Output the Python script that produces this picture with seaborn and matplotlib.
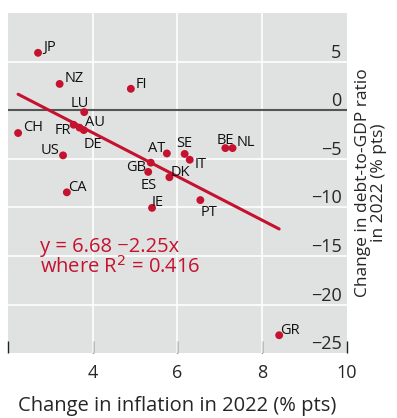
import matplotlib
matplotlib.use("Agg")
import matplotlib.pyplot as plt
import numpy as np
import pandas as pd
import seaborn as sns

# values
countries = ["JP", "NZ", "FI", "LU", "CH", "FR", "AU", "DE", "US", "CA", "AT", "SE",
             "IT", "GB", "ES", "DK", "IE", "BE", "NL", "PT", "GR"]
inflation_change = [2.71, 3.22, 4.90, 3.80, 2.24, 3.55, 3.69, 3.79, 3.30, 3.39, 5.75, 6.17,
                    6.29, 5.37, 5.31, 5.81, 5.40, 7.13, 7.30, 6.54, 8.40]
debt_change = [5.9, 2.7, 2.2, -0.2, -2.35, -1.5, -1.8, -2.05, -4.65, -8.45, -4.45, -4.5,
               -5.1, -5.4, -6.35, -6.9, -10.05, -3.9, -3.9, -9.25, -23.15]
fit_intercept = 6.68
fit_slope = -2.25
fit_r2 = 0.416
x_ticks = [2, 4, 6, 8, 10]
x_tick_labels = ["", "4", "6", "8", "10"]
y_ticks = [5, 0, -5, -10, -15, -20, -25]

# label offsets in pixels (x, y, horizontal alignment)
label_pos = {
    "JP": (5, 5, "left"), "NZ": (5, 5, "left"), "FI": (5, 4, "left"),
    "LU": (-4, 9, "center"), "CH": (5, 6, "left"), "FR": (-3, -6, "right"),
    "AU": (5, 5, "left"), "DE": (0, -14, "left"), "US": (-4, 5, "right"),
    "CA": (1, 5, "left"), "AT": (-2, 5, "right"), "SE": (0, 10, "center"),
    "IT": (5, -5, "left"), "GB": (-5, -5, "right"), "ES": (0, -14, "center"),
    "DK": (1, 5, "left"), "IE": (0, 5, "left"), "BE": (0, 8, "center"),
    "NL": (4, 6, "left"), "PT": (0, -12, "left"), "GR": (1, 5, "left"),
}

df = pd.DataFrame({"country": countries, "x": inflation_change, "y": debt_change})

red = "#c4122f"
sns.set_style("white")
plt.rcParams["font.family"] = ["Open Sans", "DejaVu Sans"]

fig = plt.figure(figsize=(3.97, 4.18), dpi=100)
ax = fig.add_axes([0.02, 0.155, 0.854, 0.814])
ax.set_facecolor("#e0e1e1")

# grid
for xv in [4, 6, 8]:
    ax.axvline(xv, color="white", lw=1.2, zorder=1)
for yv in [5, -5, -10, -15, -20]:
    ax.axhline(yv, color="white", lw=1.2, zorder=1)
ax.axhline(0, color="#555555", lw=1.5, zorder=1)

# regression line over the data range
xfit = np.array([df["x"].min(), df["x"].max()])
yfit = fit_intercept + fit_slope * xfit
sns.lineplot(x=xfit, y=yfit, color=red, lw=2.2, ax=ax, zorder=2)

sns.scatterplot(data=df, x="x", y="y", color=red, s=32, edgecolor="none", ax=ax, zorder=3)

for c, xv, yv in zip(countries, inflation_change, debt_change):
    dx, dy, ha = label_pos[c]
    ax.annotate(c, (xv, yv), xytext=(dx, dy), textcoords="offset pixels",
                ha=ha, va="center", fontsize=10.5, color="#111111", zorder=4)

ax.text(2.76, -13.0, "y = %.2f \u2212%.2fx\nwhere R$^2$ = %.3f" % (fit_intercept, -fit_slope, fit_r2),
        color=red, fontsize=14.5, va="top", ha="left", linespacing=0.95)

ax.set_xlim(2, 10)
ax.set_ylim(-25, 10)
ax.set_xticks(x_ticks)
ax.set_xticklabels(x_tick_labels)
ax.set_yticks(y_ticks)
ax.tick_params(axis="x", bottom=True, direction="in", length=9, width=1, color="#222222",
               labelsize=13, pad=8)
ax.tick_params(axis="y", length=0, labelsize=13, labelleft=False, labelright=True, pad=-4)
for lbl in ax.get_yticklabels():
    lbl.set_ha("right")
    lbl.set_va("bottom")

for s in ax.spines.values():
    s.set_visible(False)

ax.set_xlabel("Change in inflation in 2022 (% pts)", fontsize=14.5, labelpad=10)
ax.yaxis.set_label_position("right")
ax.set_ylabel("Change in debt-to-GDP ratio\nin 2022 (% pts)", fontsize=12.5,
              labelpad=6, linespacing=1.0)

fig.savefig("out.png", dpi=100)
